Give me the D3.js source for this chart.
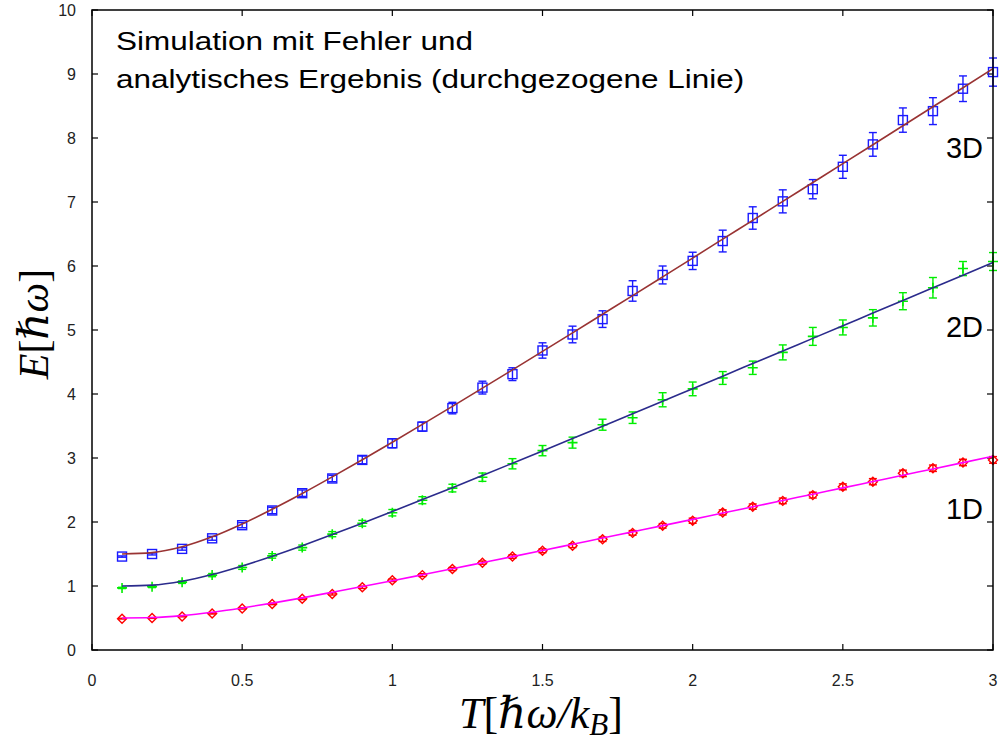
<!DOCTYPE html>
<html><head><meta charset="utf-8">
<script src="https://cdn.jsdelivr.net/npm/d3@7"></script>
<style>html,body{margin:0;padding:0;background:#fff;}svg{display:block;}</style>
</head><body>
<svg id="chart" width="1001" height="744"></svg>
<script>
const T = [0.1,0.2,0.3,0.4,0.5,0.6,0.7,0.8,0.9,1.0,1.1,1.2,1.3,1.4,1.5,1.6,1.7,1.8,1.9,2.0,2.1,2.2,2.3,2.4,2.5,2.6,2.7,2.8,2.9,3.0];

const sim1D = [0.49,0.50,0.525,0.57,0.65,0.72,0.80,0.875,0.98,1.09,1.17,1.265,1.365,1.46,1.55,1.63,1.73,1.83,1.94,2.02,2.15,2.24,2.33,2.42,2.55,2.63,2.76,2.84,2.93,2.97];
const err1D = [0.006,0.006,0.007,0.008,0.01,0.012,0.013,0.016,0.018,0.02,0.022,0.024,0.025,0.028,0.03,0.03,0.034,0.036,0.036,0.04,0.04,0.042,0.044,0.045,0.046,0.048,0.05,0.05,0.05,0.052];
const sim2D = [0.97,0.99,1.06,1.17,1.29,1.47,1.60,1.81,1.98,2.145,2.34,2.53,2.70,2.91,3.115,3.24,3.52,3.63,3.91,4.08,4.25,4.41,4.65,4.90,5.04,5.19,5.45,5.66,5.96,6.07];
const err2D = [0.01,0.015,0.02,0.025,0.03,0.035,0.04,0.04,0.045,0.05,0.055,0.06,0.065,0.08,0.08,0.086,0.086,0.09,0.11,0.107,0.10,0.104,0.117,0.14,0.117,0.128,0.133,0.16,0.11,0.14];
const sim3D = [1.46,1.50,1.58,1.745,1.95,2.18,2.45,2.68,2.97,3.23,3.49,3.78,4.10,4.31,4.68,4.93,5.17,5.61,5.86,6.08,6.39,6.75,7.01,7.20,7.55,7.90,8.28,8.42,8.77,9.03];
const err3D = [0.01,0.015,0.02,0.03,0.04,0.05,0.05,0.05,0.06,0.07,0.07,0.09,0.10,0.10,0.12,0.13,0.13,0.16,0.14,0.135,0.17,0.175,0.18,0.15,0.18,0.185,0.19,0.21,0.20,0.22];

const ana1D = [0.500,0.507,0.537,0.589,0.657,0.733,0.815,0.902,0.991,1.082,1.175,1.269,1.364,1.459,1.555,1.652,1.749,1.846,1.943,2.041,2.140,2.238,2.336,2.435,2.533,2.632,2.731,2.829,2.928,3.028];
const ana2D = [1.000,1.014,1.075,1.179,1.313,1.466,1.630,1.803,1.981,2.164,2.350,2.537,2.727,2.918,3.110,3.303,3.497,3.691,3.886,4.083,4.279,4.476,4.673,4.869,5.066,5.264,5.461,5.659,5.857,6.056];
const ana3D = [1.500,1.521,1.612,1.768,1.970,2.199,2.445,2.705,2.972,3.246,3.525,3.806,4.091,4.377,4.665,4.955,5.246,5.537,5.830,6.124,6.419,6.714,7.009,7.304,7.599,7.895,8.192,8.488,8.785,9.083];

const xTicks = [0,0.5,1,1.5,2,2.5,3];
const yTicks = [0,1,2,3,4,5,6,7,8,9,10];
const xTickLabels = ["0","0.5","1","1.5","2","2.5","3"];
const yTickLabels = ["0","1","2","3","4","5","6","7","8","9","10"];
const seriesNames = ["1D","2D","3D"];
const titleLines = ["Simulation mit Fehler und","analytisches Ergebnis (durchgezogene Linie)"];

const L = 92, R = 993, TOP = 10, B = 650;
const svg = d3.select("#chart");
const x = d3.scaleLinear().domain([0,3]).range([L,R]);
const y = d3.scaleLinear().domain([0,10]).range([B,TOP]);

// ticks (inward, mirrored)
const tickLen = 6;
const ax = svg.append("g").attr("stroke","#000").attr("stroke-width",1.2);
xTicks.forEach(v=>{
  ax.append("line").attr("x1",x(v)).attr("x2",x(v)).attr("y1",B).attr("y2",B-tickLen);
  ax.append("line").attr("x1",x(v)).attr("x2",x(v)).attr("y1",TOP).attr("y2",TOP+tickLen);
});
yTicks.forEach(v=>{
  ax.append("line").attr("x1",L).attr("x2",L+tickLen).attr("y1",y(v)).attr("y2",y(v));
  ax.append("line").attr("x1",R).attr("x2",R-tickLen).attr("y1",y(v)).attr("y2",y(v));
});

// tick labels
const tl = svg.append("g").attr("font-family","'Liberation Sans', Arial, sans-serif").attr("font-size",16).attr("fill","#222");
xTicks.forEach((v,i)=>{
  tl.append("text").attr("x",x(v)).attr("y",686).attr("text-anchor","middle").text(xTickLabels[i]);
});
yTicks.forEach((v,i)=>{
  tl.append("text").attr("x",76).attr("y",y(v)+6).attr("text-anchor","end").text(yTickLabels[i]);
});

// series
const series = [
  {sim:sim1D, err:err1D, ana:ana1D, pc:"#ff0000", lc:"#ff00ff", mark:"diamond"},
  {sim:sim2D, err:err2D, ana:ana2D, pc:"#00ee00", lc:"#2b2b8c", mark:"plus"},
  {sim:sim3D, err:err3D, ana:ana3D, pc:"#1a1aff", lc:"#993333", mark:"square"}
];
const cap = 4;
series.forEach(s=>{
  const g = svg.append("g").attr("stroke",s.pc).attr("fill","none").attr("stroke-width",1.4);
  T.forEach((t,i)=>{
    const cx = x(t), cy = y(s.sim[i]);
    const y1 = y(s.sim[i]-s.err[i]), y2 = y(s.sim[i]+s.err[i]);
    g.append("line").attr("x1",cx).attr("x2",cx).attr("y1",y1).attr("y2",y2);
    g.append("line").attr("x1",cx-cap).attr("x2",cx+cap).attr("y1",y1).attr("y2",y1);
    g.append("line").attr("x1",cx-cap).attr("x2",cx+cap).attr("y1",y2).attr("y2",y2);
    if (s.mark==="square") {
      g.append("rect").attr("x",cx-4.5).attr("y",cy-4.5).attr("width",9).attr("height",9);
    } else if (s.mark==="plus") {
      g.append("path").attr("d",`M${cx-5},${cy}H${cx+5}M${cx},${cy-5}V${cy+5}`).attr("stroke-width",1.6);
    } else {
      g.append("path").attr("d",`M${cx},${cy-4.5}L${cx+4.5},${cy}L${cx},${cy+4.5}L${cx-4.5},${cy}Z`);
    }
  });
  const line = d3.line().x((d,i)=>x(T[i])).y(d=>y(d)).curve(d3.curveMonotoneX);
  svg.append("path").datum(s.ana).attr("d",line).attr("fill","none").attr("stroke",s.lc).attr("stroke-width",1.6);
});

// frame
svg.append("rect").attr("x",L).attr("y",TOP).attr("width",R-L).attr("height",B-TOP)
  .attr("fill","none").attr("stroke","#000").attr("stroke-width",1.5);

// series labels
const sl = svg.append("g").attr("font-family","'Liberation Sans', Arial, sans-serif").attr("font-size",29).attr("fill","#000").attr("text-anchor","end");
sl.append("text").attr("x",983).attr("y",519).text(seriesNames[0]);
sl.append("text").attr("x",983).attr("y",337).text(seriesNames[1]);
sl.append("text").attr("x",983).attr("y",158).text(seriesNames[2]);

// title
const tg = svg.append("g").attr("transform","translate(116,0) scale(1.235,1)")
  .attr("font-family","'Liberation Sans', Arial, sans-serif").attr("font-size",25.5).attr("fill","#000");
tg.append("text").attr("x",0).attr("y",50).text(titleLines[0]);
tg.append("text").attr("x",0).attr("y",88).text(titleLines[1]);

// axis labels
const serif = "'Liberation Serif', 'DejaVu Serif', serif";
const yl = svg.append("text").attr("transform","translate(48,324) rotate(-90)")
  .attr("text-anchor","middle").attr("font-family",serif).attr("font-size",42).attr("fill","#000");
yl.append("tspan").attr("font-style","italic").text("E");
yl.append("tspan").text("[");
yl.append("tspan").attr("font-style","italic").text("ℏω");
yl.append("tspan").text("]");

const xl = svg.append("text").attr("x",541).attr("y",728)
  .attr("text-anchor","middle").attr("font-family",serif).attr("font-size",44).attr("fill","#000");
xl.append("tspan").attr("font-style","italic").text("T");
xl.append("tspan").text("[");
xl.append("tspan").attr("font-style","italic").text("ℏω/k");
xl.append("tspan").attr("font-style","italic").attr("font-size",31).attr("dy",7).text("B");
xl.append("tspan").attr("dy",-7).text("]");
</script>
</body></html>
